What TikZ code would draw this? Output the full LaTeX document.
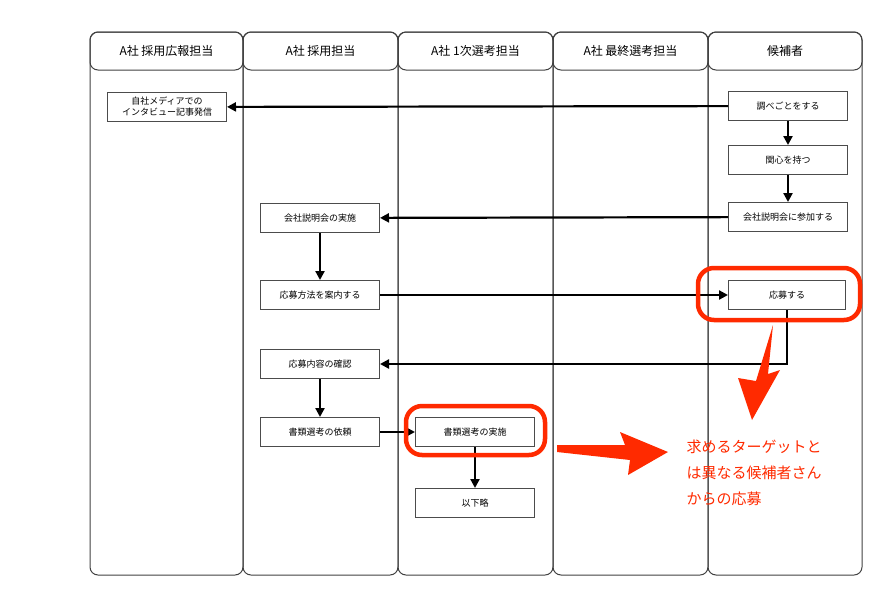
\documentclass[tikz,border=0pt]{standalone}
\usepackage{fontspec}
\setmainfont{Noto Sans CJK JP}
\usetikzlibrary{arrows.meta}
\definecolor{redm}{HTML}{FF2A00}
\begin{document}
\begin{tikzpicture}[x=1pt,y=-1pt,
  lane/.style={draw=black!75,line width=1pt,rounded corners=8pt},
  hd/.style={font=\fontsize{12}{14}\selectfont},
  box/.style={draw=black!70,line width=1pt,fill=white,minimum width=119pt,minimum height=29pt,inner sep=1pt,align=center,font=\fontsize{9}{11}\selectfont},
  ar/.style={line width=2.2pt,-{Triangle[length=9pt,width=9pt]}},
  hl/.style={draw=redm,line width=4.5pt,rounded corners=16pt}]
\useasboundingbox (0,0) rectangle (870,606);
\foreach \a/\b/\t [count=\i] in {90/243/A社 採用広報担当,243/398/A社 採用担当,398/553/A社 1次選考担当,553/708/A社 最終選考担当,708/862/候補者}{
  \draw[lane] (\a,32) rectangle (\b,575);
  \draw[lane] (\a,32) rectangle (\b,70);
  \node[hd] (h\i) at ({(\a+\b)/2},51) {\t};
}
\node[box] (media) at (167,107) {自社メディアでの\\インタビュー記事発信};
\node[box] (shirabe) at (788,106) {調べごとをする};
\node[box] (kanshin) at (788,160) {関心を持つ};
\node[box] (sanka) at (788,217) {会社説明会に参加する};
\node[box] (jisshi) at (320,218) {会社説明会の実施};
\node[box] (annai) at (320,295) {応募方法を案内する};
\node[box,minimum width=117pt] (oubo) at (787,295) {応募する};
\node[box] (kakunin) at (320,364) {応募内容の確認};
\node[box] (irai) at (320,432) {書類選考の依頼};
\node[box] (shorui) at (475,432) {書類選考の実施};
\node[box] (ika) at (475,503) {以下略};
\draw[ar] (shirabe) -- (media);
\draw[ar] (shirabe) -- (kanshin);
\draw[ar] (kanshin) -- (sanka);
\draw[ar] (sanka) -- (jisshi);
\draw[ar] (jisshi) -- (annai);
\draw[ar] (annai) -- (oubo);
\draw[ar] (oubo.south) |- (kakunin.east);
\draw[ar] (kakunin) -- (irai);
\draw[ar] (irai) -- (shorui);
\draw[ar] (shorui) -- (ika);
\draw[hl] (698,268) rectangle (860,320);
\draw[hl] (406,406) rectangle (545,455);
\fill[redm] (773,325) -- (768,374) -- (780,370) -- (752,420) -- (738,378) -- (756,381) -- cycle;
\fill[redm] (557,445) -- (625,445) -- (620,432) -- (668,452) -- (628,475) -- (630,460) -- (557,452) -- cycle;
\node[anchor=west,text=redm,font=\fontsize{15}{26}\selectfont,align=left] (note) at (683,473) {求めるターゲットと\\は異なる候補者さん\\からの応募};
\end{tikzpicture}
\end{document}
